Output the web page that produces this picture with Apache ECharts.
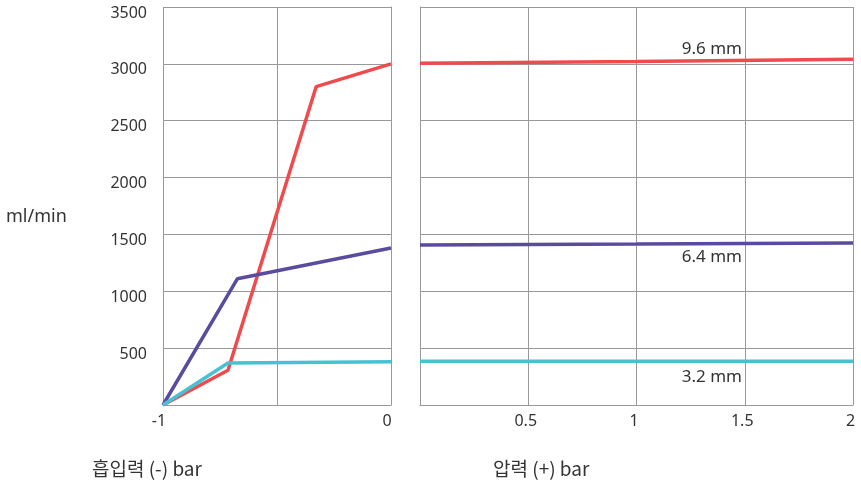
<!DOCTYPE html>
<html><head><meta charset="utf-8">
<script src="https://cdn.jsdelivr.net/npm/echarts@6/dist/echarts.min.js"></script>
<style>html,body{margin:0;padding:0;background:#fff}#c{width:861px;height:483px}</style>
</head><body><div id="c"></div>
<script>
// Suction side (left panel): x in bar (negative)
const red96Suction = [[-1, 0], [-0.715, 305], [-0.328, 2800], [0, 3000]];
const purple64Suction = [[-1, 0], [-0.674, 1110], [0, 1380]];
const cyan32Suction = [[-1, 0], [-0.715, 370], [0, 380]];
// Pressure side (right panel)
const red96Pressure = [[0, 3005], [1, 3020], [2, 3040]];
const purple64Pressure = [[0, 1408], [1, 1415], [2, 1425]];
const cyan32Pressure = [[0, 384], [1, 385], [2, 385]];
const yTicks = [500, 1000, 1500, 2000, 2500, 3000, 3500];
const seriesNames = ['9.6 mm', '6.4 mm', '3.2 mm'];
const colors = ['#EF4B4E', '#5B4B9F', '#47C2D2'];

const chart = echarts.init(document.getElementById('c'), null, {renderer: 'canvas'});
const gridColor = '#999999';
const txt = '#333';
const font = 'Noto Sans';
const axisCommon = {
  axisLine: {show: true, lineStyle: {color: gridColor, width: 1}},
  axisTick: {show: false},
  splitLine: {show: true, lineStyle: {color: gridColor, width: 1}}
};
const lineSeries = (name, data, color, xi) => ({
  name, type: 'line', data, xAxisIndex: xi, yAxisIndex: xi,
  showSymbol: false, symbol: 'none', lineStyle: {color, width: 3.5}, itemStyle: {color},
  silent: true, animation: false
});
chart.setOption({
  animation: false,
  grid: [
    {left: 163, right: 861 - 391, top: 7, bottom: 78},
    {left: 420, right: 8, top: 7, bottom: 78}
  ],
  xAxis: [
    Object.assign({type: 'value', gridIndex: 0, min: -1, max: 0, interval: 0.5,
      axisLabel: {color: txt, fontSize: 16, fontFamily: font, margin: 8, padding: [0, 8, 0, 0],
        formatter: v => (v === -1 || v === 0) ? String(v) : ''}}, axisCommon),
    Object.assign({type: 'value', gridIndex: 1, min: 0, max: 2, interval: 0.5,
      axisLabel: {color: txt, fontSize: 16, fontFamily: font, margin: 8, showMinLabel: false, padding: [0, 5, 0, 0],
        formatter: v => String(v)}}, axisCommon)
  ],
  yAxis: [
    Object.assign({type: 'value', gridIndex: 0, min: 0, max: 3500, interval: 500,
      axisLabel: {color: txt, fontSize: 16, fontFamily: font, margin: 16, showMinLabel: false,
        formatter: v => yTicks.includes(v) ? '{a|' + v + '}' : '',
        rich: {a: {color: txt, fontSize: 16, fontFamily: font, padding: [12, 0, 0, 0]}}}}, axisCommon),
    Object.assign({type: 'value', gridIndex: 1, min: 0, max: 3500, interval: 500,
      axisLabel: {show: false}}, axisCommon)
  ],
  series: [
    lineSeries(seriesNames[0], red96Suction, colors[0], 0),
    lineSeries(seriesNames[1], purple64Suction, colors[1], 0),
    lineSeries(seriesNames[2], cyan32Suction, colors[2], 0),
    lineSeries(seriesNames[0], red96Pressure, colors[0], 1),
    lineSeries(seriesNames[1], purple64Pressure, colors[1], 1),
    lineSeries(seriesNames[2], cyan32Pressure, colors[2], 1)
  ],
  graphic: [
    {type: 'text', x: 6, y: 217, style: {text: 'ml/min', fill: txt, font: '18px "Noto Sans"', verticalAlign: 'middle'}},
    {type: 'text', x: 92, y: 469, style: {text: '흡입력 (-) bar', fill: txt, font: '19px "Noto Sans CJK KR"', verticalAlign: 'middle'}},
    {type: 'text', x: 493, y: 469, style: {text: '압력 (+) bar', fill: txt, font: '19px "Noto Sans CJK KR"', verticalAlign: 'middle'}},
    {type: 'text', x: 742, y: 49, style: {text: seriesNames[0], fill: txt, font: '17px "Noto Sans"', align: 'right', verticalAlign: 'middle'}},
    {type: 'text', x: 742, y: 257, style: {text: seriesNames[1], fill: txt, font: '17px "Noto Sans"', align: 'right', verticalAlign: 'middle'}},
    {type: 'text', x: 742, y: 377, style: {text: seriesNames[2], fill: txt, font: '17px "Noto Sans"', align: 'right', verticalAlign: 'middle'}}
  ]
});
</script></body></html>
